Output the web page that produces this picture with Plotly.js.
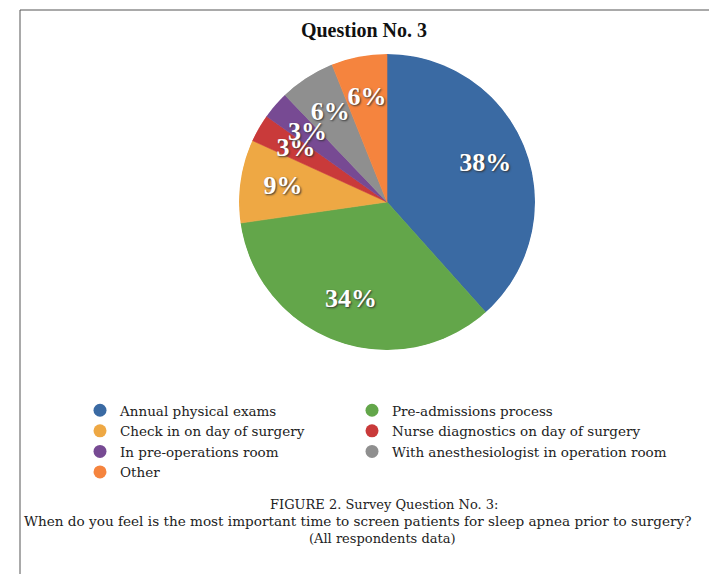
<!DOCTYPE html>
<html>
<head>
<meta charset="utf-8">
<script src="https://cdn.plot.ly/plotly-3.0.1.min.js"></script>
<style>html,body{margin:0;padding:0;background:#fff;}#chart{width:709px;height:574px;}</style>
</head>
<body>
<div id="chart"></div>
<script>
const labels = [
  "Annual physical exams",
  "Pre-admissions process",
  "Check in on day of surgery",
  "Nurse diagnostics on day of surgery",
  "In pre-operations room",
  "With anesthesiologist in operation room",
  "Other"
];
const values = [38, 34, 9, 3, 3, 6, 6];
const colors = ["#3a6aa3", "#63a64a", "#eea844", "#c93a3a", "#774a93", "#8f8f8f", "#f5843e"];

const W = 709, H = 574;
const px = x => x / W;
const py = y => 1 - y / H;
const serif = "Liberation Serif, Times New Roman, serif";
const serifWide = "DejaVu Serif, serif";

// slice geometry derived from the values
const total = values.reduce((a, b) => a + b, 0);
const widths = values.map(v => v / total * 360);
const mids = [];
let acc = 0;
widths.forEach(w => { mids.push(acc + w / 2); acc += w; });
const pctText = values.map(v => v + "%");

const wedges = {
  type: "barpolar",
  theta: mids,
  width: widths,
  r: values.map(() => 1),
  base: values.map(() => 0),
  marker: { color: colors, line: { color: colors, width: 0.6 } },
  hoverinfo: "none",
  showlegend: false,
  subplot: "polar"
};

const sliceText = {
  type: "scatterpolar",
  mode: "text",
  theta: mids,
  r: values.map(() => 0.71),
  text: pctText,
  textposition: "middle center",
  textfont: { family: serif, size: 26, color: "#ffffff", weight: "bold", shadow: "1px 1px 2px #333" },
  hoverinfo: "none",
  showlegend: false,
  subplot: "polar"
};

// legend entries: row-major order in two columns (even index -> left column)
const legendTraces = labels.map((l, i) => ({
  type: "scatterpolar",
  mode: "markers",
  r: [null], theta: [null],
  name: l,
  legend: i % 2 === 0 ? "legend" : "legend2",
  marker: { color: colors[i], size: 13, symbol: "circle" },
  showlegend: true,
  hoverinfo: "none",
  subplot: "polar"
}));

const legendStyle = {
  orientation: "v",
  yanchor: "top",
  xanchor: "left",
  itemwidth: 30,
  tracegroupgap: 0,
  traceorder: "normal",
  font: { family: serifWide, size: 13.5, color: "#222" },
  bgcolor: "rgba(0,0,0,0)"
};

const layout = {
  width: W, height: H,
  margin: { l: 0, r: 0, t: 0, b: 0 },
  paper_bgcolor: "#ffffff",
  title: {
    text: "<b>Question No. 3</b>",
    font: { family: serif, size: 20, color: "#111" },
    x: px(364), xanchor: "center",
    y: py(30), yanchor: "middle"
  },
  polar: {
    domain: { x: [px(239), px(535)], y: [py(350), py(54)] },
    bgcolor: "rgba(0,0,0,0)",
    hole: 0,
    bargap: 0,
    angularaxis: { visible: false, rotation: 90, direction: "clockwise", showgrid: false, showline: false, ticks: "" },
    radialaxis: { visible: false, range: [0, 1], showgrid: false, showline: false, ticks: "" }
  },
  showlegend: true,
  legend: Object.assign({}, legendStyle, { x: px(80), y: py(395) }),
  legend2: Object.assign({}, legendStyle, { x: px(352), y: py(395) }),
  shapes: [
    { type: "line", xref: "paper", yref: "paper", x0: px(20), x1: px(20), y0: py(10), y1: 0, line: { color: "#555", width: 1 } },
    { type: "line", xref: "paper", yref: "paper", x0: px(20), x1: 1, y0: py(10), y1: py(10), line: { color: "#555", width: 1 } }
  ],
  annotations: [
    { text: "FIGURE 2. Survey Question No. 3:", xref: "paper", yref: "paper", x: px(384), y: py(504), xanchor: "center", yanchor: "middle", showarrow: false, font: { family: serifWide, size: 13, color: "#222" } },
    { text: "When do you feel is the most important time to screen patients for sleep apnea prior to surgery?", xref: "paper", yref: "paper", x: px(22), y: py(521), xanchor: "left", yanchor: "middle", showarrow: false, font: { family: serifWide, size: 13.6, color: "#222" } },
    { text: "(All respondents data)", xref: "paper", yref: "paper", x: px(382), y: py(538), xanchor: "center", yanchor: "middle", showarrow: false, font: { family: serifWide, size: 13, color: "#222" } }
  ]
};

Plotly.newPlot("chart", [wedges, sliceText].concat(legendTraces), layout, { displayModeBar: false, staticPlot: true });
</script>
</body>
</html>
